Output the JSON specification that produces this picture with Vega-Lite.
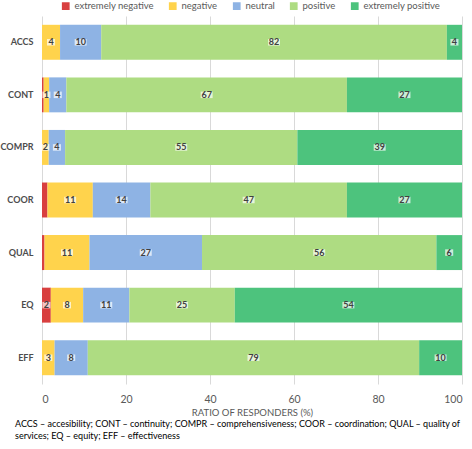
{
  "$schema": "https://vega.github.io/schema/vega-lite/v6.json",
  "width": 420,
  "height": 368,
  "autosize": "none",
  "padding": {"left": 42, "top": 16, "right": 10, "bottom": 65},
  "background": "white",
  "config": {
    "font": "Lato",
    "view": {"stroke": null},
    "axis": {"labelColor": "#595959", "titleColor": "#595959"}
  },
  "title": {
    "text": ["ACCS – accesibility; CONT – continuity; COMPR – comprehensiveness; COOR – coordination; QUAL – quality of", "services; EQ – equity; EFF – effectiveness"],
    "orient": "bottom",
    "anchor": "start",
    "frame": "group",
    "dx": -27,
    "offset": 3,
    "fontSize": 9,
    "fontWeight": "normal",
    "lineHeight": 12,
    "color": "#000000"
  },
  "data": {
    "values": [
      {"cat": "ACCS", "type": "extremely negative", "value": 0, "label": null},
      {"cat": "ACCS", "type": "negative", "value": 4.3, "label": "4"},
      {"cat": "ACCS", "type": "neutral", "value": 9.8, "label": "10"},
      {"cat": "ACCS", "type": "positive", "value": 82.3, "label": "82"},
      {"cat": "ACCS", "type": "extremely positive", "value": 3.6, "label": "4"},
      {"cat": "CONT", "type": "extremely negative", "value": 0.4, "label": null},
      {"cat": "CONT", "type": "negative", "value": 1.3, "label": "1"},
      {"cat": "CONT", "type": "neutral", "value": 4.1, "label": "4"},
      {"cat": "CONT", "type": "positive", "value": 66.8, "label": "67"},
      {"cat": "CONT", "type": "extremely positive", "value": 27.4, "label": "27"},
      {"cat": "COMPR", "type": "extremely negative", "value": 0, "label": null},
      {"cat": "COMPR", "type": "negative", "value": 1.6, "label": "2"},
      {"cat": "COMPR", "type": "neutral", "value": 3.9, "label": "4"},
      {"cat": "COMPR", "type": "positive", "value": 55.3, "label": "55"},
      {"cat": "COMPR", "type": "extremely positive", "value": 39.2, "label": "39"},
      {"cat": "COOR", "type": "extremely negative", "value": 1.3, "label": null},
      {"cat": "COOR", "type": "negative", "value": 10.8, "label": "11"},
      {"cat": "COOR", "type": "neutral", "value": 13.7, "label": "14"},
      {"cat": "COOR", "type": "positive", "value": 46.8, "label": "47"},
      {"cat": "COOR", "type": "extremely positive", "value": 27.4, "label": "27"},
      {"cat": "QUAL", "type": "extremely negative", "value": 0.6, "label": null},
      {"cat": "QUAL", "type": "negative", "value": 10.7, "label": "11"},
      {"cat": "QUAL", "type": "neutral", "value": 26.8, "label": "27"},
      {"cat": "QUAL", "type": "positive", "value": 55.8, "label": "56"},
      {"cat": "QUAL", "type": "extremely positive", "value": 6.1, "label": "6"},
      {"cat": "EQ", "type": "extremely negative", "value": 2.1, "label": "2"},
      {"cat": "EQ", "type": "negative", "value": 7.7, "label": "8"},
      {"cat": "EQ", "type": "neutral", "value": 11.0, "label": "11"},
      {"cat": "EQ", "type": "positive", "value": 25.1, "label": "25"},
      {"cat": "EQ", "type": "extremely positive", "value": 54.1, "label": "54"},
      {"cat": "EFF", "type": "extremely negative", "value": 0, "label": null},
      {"cat": "EFF", "type": "negative", "value": 3.0, "label": "3"},
      {"cat": "EFF", "type": "neutral", "value": 7.9, "label": "8"},
      {"cat": "EFF", "type": "positive", "value": 78.9, "label": "79"},
      {"cat": "EFF", "type": "extremely positive", "value": 10.2, "label": "10"}
    ]
  },
  "transform": [
    {"calculate": "indexof(['extremely negative','negative','neutral','positive','extremely positive'], datum.type)", "as": "ord"},
    {"stack": "value", "groupby": ["cat"], "sort": [{"field": "ord", "order": "ascending"}], "as": ["x0", "x1"]},
    {"calculate": "(datum.x0 + datum.x1) / 2", "as": "xm"},
    {"calculate": "datum.label ? length(datum.label) : 0", "as": "digits"}
  ],
  "encoding": {
    "y": {
      "field": "cat",
      "type": "nominal",
      "sort": ["ACCS", "CONT", "COMPR", "COOR", "QUAL", "EQ", "EFF"],
      "scale": {"paddingInner": 0.335, "paddingOuter": 0.1675},
      "axis": {"title": null, "domain": false, "ticks": false, "labelPadding": 9, "labelFontSize": 9, "labelFontWeight": "bold", "labelColor": "#4D4D4D"}
    }
  },
  "layer": [
    {
      "mark": {"type": "bar"},
      "encoding": {
        "x": {
          "field": "x0",
          "type": "quantitative",
          "scale": {"domain": [0, 100], "nice": false},
          "axis": {
            "title": "RATIO OF RESPONDERS (%)",
            "values": [0, 20, 40, 60, 80, 100],
            "domain": false,
            "ticks": false,
            "grid": true,
            "gridColor": "#D9D9D9",
            "gridWidth": 1,
            "labelPadding": 10,
            "labelFontSize": 10.5,
            "titleFontSize": 9.5,
            "titleFontWeight": "normal",
            "titlePadding": 3
          }
        },
        "x2": {"field": "x1"},
        "color": {
          "field": "type",
          "type": "nominal",
          "scale": {
            "domain": ["extremely negative", "negative", "neutral", "positive", "extremely positive"],
            "range": ["#D83F3F", "#FFD34C", "#8EB3E4", "#AEDC82", "#4DC37D"]
          },
          "legend": {
            "title": null,
            "orient": "none",
            "direction": "horizontal",
            "legendX": 19,
            "legendY": -15,
            "symbolType": "square",
            "symbolSize": 60,
            "symbolStrokeWidth": 0,
            "labelFontSize": 9.5,
            "labelColor": "#595959",
            "labelOffset": 4,
            "columnPadding": 14
          }
        }
      }
    },
    {
      "transform": [{"filter": "datum.label != null"}],
      "mark": {"type": "point", "filled": true, "size": 169, "opacity": 0.7, "color": "white", "strokeWidth": 0},
      "encoding": {
        "x": {"field": "xm", "type": "quantitative"},
        "shape": {
          "field": "digits",
          "type": "ordinal",
          "scale": {"domain": [1, 2], "range": ["M-0.62,-0.5H0.62V0.5H-0.62Z", "M-0.92,-0.5H0.92V0.5H-0.92Z"]},
          "legend": null
        }
      }
    },
    {
      "transform": [{"filter": "datum.label != null"}],
      "mark": {"type": "text", "fontSize": 9, "fontWeight": "bold", "color": "#404040", "baseline": "middle"},
      "encoding": {
        "x": {"field": "xm", "type": "quantitative"},
        "text": {"field": "label"}
      }
    }
  ]
}
